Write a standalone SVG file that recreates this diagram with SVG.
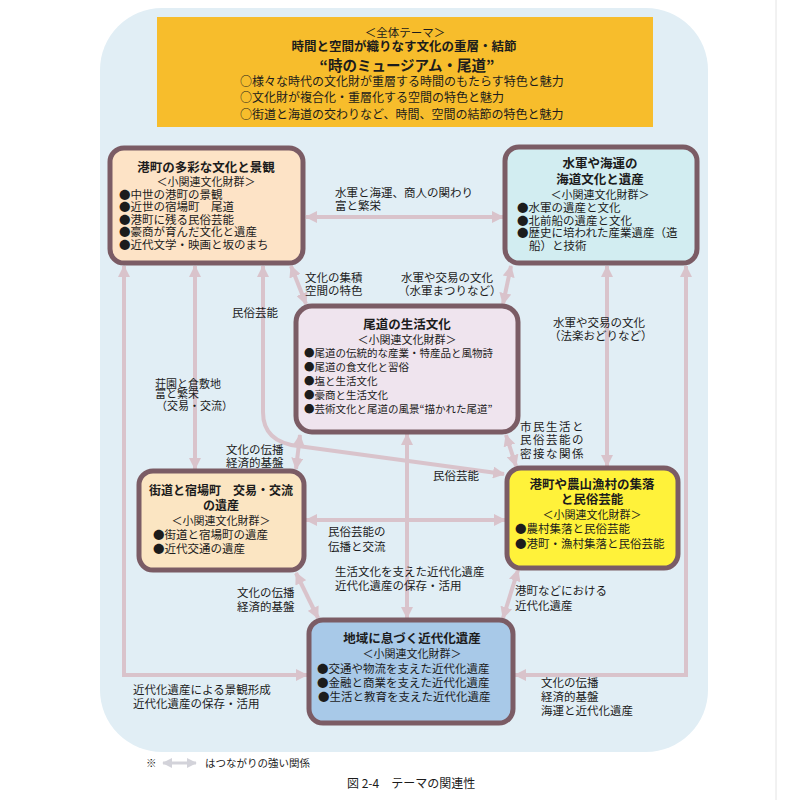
<svg xmlns="http://www.w3.org/2000/svg" width="799" height="800" viewBox="0 0 799 800">
<defs>
<marker id="ah" viewBox="0 0 12 12" refX="11" refY="6" markerWidth="12" markerHeight="12" markerUnits="userSpaceOnUse" orient="auto-start-reverse">
<path d="M0,0 L12,6 L0,12 Z" fill="#d9c3cb"/>
</marker>
<marker id="ahl" viewBox="0 0 12 12" refX="11" refY="6" markerWidth="10" markerHeight="10" markerUnits="userSpaceOnUse" orient="auto-start-reverse">
<path d="M0,0 L12,6 L0,12 Z" fill="#d3d3da"/>
</marker>
<style>
text{font-family:"Noto Sans CJK JP","Noto Sans CJK SC",sans-serif;fill:#1c1c1c}
.t{font-size:12.5px;font-weight:bold;text-anchor:middle}
.s{font-size:11px;text-anchor:middle}
.b{font-size:11.5px}
.b3{font-size:10.5px}
.bs{font-size:11.5px}
.l{font-size:11.5px}
.box{stroke:#7b5c65;stroke-width:5}
.c{fill:none;stroke:#d9c3cb;stroke-width:4;marker-start:url(#ah);marker-end:url(#ah)}
</style>
</defs>
<rect x="0" y="0" width="799" height="800" fill="#ffffff"/>
<line x1="776" y1="0" x2="776" y2="800" stroke="#e4e4e4" stroke-width="1"/>
<rect x="100" y="8" width="608" height="744" rx="62" fill="#e1eef5"/>

<g id="banner">
<rect x="157" y="17" width="496" height="110" fill="#f7bd2c"/>
<text x="405" y="37" class="s" style="font-size:11.5px">＜全体テーマ＞</text>
<text x="404" y="51" class="t">時間と空間が織りなす文化の重層・結節</text>
<text x="407" y="70.5" class="t" style="font-size:14.5px">“時のミュージアム・尾道”</text>
<text x="240" y="86" class="b" style="font-size:12px">○様々な時代の文化財が重層する時間のもたらす特色と魅力</text>
<text x="240" y="102" class="b" style="font-size:12px">○文化財が複合化・重層化する空間の特色と魅力</text>
<text x="240" y="118.5" class="b" style="font-size:12px">○街道と海道の交わりなど、時間、空間の結節の特色と魅力</text>
</g>

<g id="connectors">
<line class="c" x1="306" y1="217" x2="503" y2="217"/>
<line class="c" x1="291" y1="266" x2="306" y2="304"/>
<line class="c" x1="511" y1="266" x2="503" y2="304"/>
<line class="c" x1="607" y1="266" x2="607" y2="466"/>
<line class="c" x1="195" y1="266" x2="195" y2="469"/>
<path class="c" d="M124,266 L124,675 L307,675"/>
<path class="c" d="M686,266 L686,675 L515,675"/>
<path class="c" d="M263,266 L263,412 Q263,442 298,446 L504,474"/>
<line class="c" x1="506" y1="435" x2="516" y2="466"/>
<line class="c" x1="300" y1="435" x2="296" y2="469"/>
<line class="c" x1="306" y1="520" x2="505" y2="520"/>
<line class="c" x1="407" y1="434" x2="407" y2="618"/>
<line class="c" x1="296" y1="573" x2="318" y2="618"/>
<line class="c" x1="518" y1="570" x2="503" y2="618"/>
</g>

<g id="labels">
<text x="335" y="197" class="l">水軍と海運、商人の関わり</text>
<text x="335" y="210" class="l">富と繁栄</text>
<text x="305" y="281.5" class="l">文化の集積</text>
<text x="305" y="294.5" class="l">空間の特色</text>
<text x="401" y="281.5" class="l">水軍や交易の文化</text>
<text x="398" y="294.5" class="l">（水軍まつりなど）</text>
<text x="232" y="317" class="l">民俗芸能</text>
<text x="553" y="326.5" class="l">水軍や交易の文化</text>
<text x="549" y="339.5" class="l">（法楽おどりなど）</text>
<text x="155" y="388" class="l" style="font-size:11px">荘園と倉敷地</text>
<text x="155" y="398" class="l" style="font-size:11px">富と繁栄</text>
<text x="156" y="410" class="l" style="font-size:11px">（交易・交流）</text>
<text x="226" y="453.5" class="l">文化の伝播</text>
<text x="226" y="466.5" class="l">経済的基盤</text>
<text x="520" y="430.5" class="l" letter-spacing="1.5">市民生活と</text>
<text x="520" y="444" class="l" letter-spacing="1.5">民俗芸能の</text>
<text x="520" y="457.5" class="l" letter-spacing="1.5">密接な関係</text>
<text x="433" y="480" class="l">民俗芸能</text>
<text x="328" y="536" class="l">民俗芸能の</text>
<text x="328" y="551" class="l">伝播と交流</text>
<text x="335" y="576" class="l">生活文化を支えた近代化遺産</text>
<text x="335" y="590" class="l">近代化遺産の保存・活用</text>
<text x="237" y="597" class="l">文化の伝播</text>
<text x="237" y="611" class="l">経済的基盤</text>
<text x="515" y="595" class="l">港町などにおける</text>
<text x="515" y="610" class="l">近代化遺産</text>
<text x="133" y="694" class="l">近代化遺産による景観形成</text>
<text x="133" y="708" class="l">近代化遺産の保存・活用</text>
<text x="541" y="687" class="l">文化の伝播</text>
<text x="541" y="701" class="l">経済的基盤</text>
<text x="541" y="715" class="l">海運と近代化遺産</text>
</g>

<g id="node1">
<rect class="box" x="110" y="148" width="193" height="115" rx="14" fill="#fde3c6"/>
<text x="206" y="172" class="t">港町の多彩な文化と景観</text>
<text x="206" y="185.5" class="s">＜小関連文化財群＞</text>
<text x="119" y="198.5" class="b">●中世の港町の景観</text>
<text x="119" y="211" class="b">●近世の宿場町　尾道</text>
<text x="119" y="223.5" class="b">●港町に残る民俗芸能</text>
<text x="119" y="236" class="b">●豪商が育んだ文化と遺産</text>
<text x="119" y="248.5" class="b">●近代文学・映画と坂のまち</text>
</g>

<g id="node2">
<rect class="box" x="505" y="147" width="192" height="116" rx="14" fill="#d2edf1"/>
<text x="600" y="168" class="t">水軍や海運の</text>
<text x="600" y="184" class="t">海道文化と遺産</text>
<text x="600" y="198.5" class="s">＜小関連文化財群＞</text>
<text x="517" y="212" class="b">●水軍の遺産と文化</text>
<text x="517" y="224.5" class="b">●北前船の遺産と文化</text>
<text x="517" y="237" class="b">●歴史に培われた産業遺産（造</text>
<text x="529" y="250" class="b">船）と技術</text>
</g>

<g id="node3">
<rect class="box" x="296" y="306" width="222" height="126" rx="16" fill="#efe4ee"/>
<text x="407" y="328.5" class="t">尾道の生活文化</text>
<text x="407" y="343.5" class="s">＜小関連文化財群＞</text>
<text x="304" y="357" class="b3">●尾道の伝統的な産業・特産品と風物詩</text>
<text x="304" y="370.5" class="b3">●尾道の食文化と習俗</text>
<text x="304" y="384.5" class="b3">●塩と生活文化</text>
<text x="304" y="398.5" class="b3">●豪商と生活文化</text>
<text x="304" y="412.5" class="b3">●芸術文化と尾道の風景“描かれた尾道”</text>
</g>

<g id="node4">
<rect class="box" x="139" y="471" width="165" height="99" rx="14" fill="#fbe5c2"/>
<text x="221" y="494.5" class="t" style="font-size:12px">街道と宿場町　交易・交流</text>
<text x="221" y="509.5" class="t" style="font-size:12px">の遺産</text>
<text x="221" y="524.5" class="s">＜小関連文化財群＞</text>
<text x="153" y="538.5" class="bs">●街道と宿場町の遺産</text>
<text x="153" y="553" class="bs">●近代交通の遺産</text>
</g>

<g id="node5">
<rect class="box" x="507" y="468" width="171" height="100" rx="14" fill="#fff23a"/>
<text x="592" y="489" class="t">港町や農山漁村の集落</text>
<text x="592" y="503.5" class="t">と民俗芸能</text>
<text x="592" y="519" class="s">＜小関連文化財群＞</text>
<text x="515" y="533" class="bs">●農村集落と民俗芸能</text>
<text x="515" y="548" class="bs">●港町・漁村集落と民俗芸能</text>
</g>

<g id="node6">
<rect class="box" x="309" y="620" width="204" height="103" rx="14" fill="#a8c9e8"/>
<text x="412" y="642.5" class="t">地域に息づく近代化遺産</text>
<text x="412" y="657.5" class="s">＜小関連文化財群＞</text>
<text x="317" y="672.5" class="bs">●交通や物流を支えた近代化遺産</text>
<text x="317" y="686.5" class="bs">●金融と商業を支えた近代化遺産</text>
<text x="318" y="700.5" class="bs">●生活と教育を支えた近代化遺産</text>
</g>

<g id="legend">
<text x="146" y="767" style="font-size:10.5px">※</text>
<line x1="163" y1="763" x2="196" y2="763" stroke="#d3d3da" stroke-width="3" marker-start="url(#ahl)" marker-end="url(#ahl)"/>
<text x="205" y="767" style="font-size:10.5px">はつながりの強い関係</text>
<text x="347" y="788" style="font-size:12px">図 2-4　テーマの関連性</text>
</g>
</svg>
